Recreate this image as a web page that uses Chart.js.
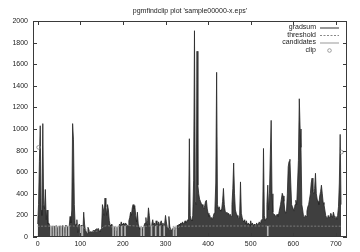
<!DOCTYPE html>
<html>
<head>
<meta charset="utf-8">
<script src="https://cdn.jsdelivr.net/npm/chart.js@4/dist/chart.umd.min.js"></script>
<style>
  html, body { margin: 0; padding: 0; background: #fff; }
  #wrap { width: 360px; height: 252px; }
</style>
</head>
<body>
<div id="wrap"><canvas id="plot" width="360" height="252"></canvas></div>
<script>
// gradsum sampled every 2 columns, starting at column 0
const gradsumStep = 2;
const gradsum = [
  120, 300, 700, 1030, 250, 200, 1050, 300, 260, 440,
  160, 250, 120, 130, 110, 60, 90, 100, 40, 95,
  100, 60, 105, 90, 30, 100, 95, 100, 50, 105,
  100, 90, 40, 110, 100, 95, 60, 100, 190, 130,
  250, 1050, 900, 300, 100, 120, 160, 40, 110, 120,
  50, 110, 100, 40, 230, 120, 60, 50, 30, 90,
  70, 40, 50, 45, 50, 60, 55, 60, 70, 75,
  70, 80, 60, 50, 70, 80, 300, 260, 200, 360,
  280, 200, 300, 250, 150, 110, 100, 120, 90, 60,
  80, 100, 50, 90, 70, 60, 120, 100, 140, 120,
  110, 130, 110, 130, 120, 110, 100, 150, 180, 230,
  200, 270, 300, 260, 290, 200, 140, 230, 120, 90,
  70, 80, 60, 90, 70, 110, 130, 180, 100, 150,
  270, 200, 100, 90, 120, 160, 110, 130, 90, 150,
  120, 110, 140, 100, 130, 150, 110, 130, 90, 120,
  200, 140, 90, 80, 190, 100, 70, 60, 75, 80,
  60, 90, 80, 70, 110, 100, 120, 110, 130, 120,
  140, 120, 130, 150, 130, 140, 160, 150, 910, 200,
  160, 150, 200, 520, 1910, 330, 300, 1720, 480, 400,
  350, 330, 310, 300, 280, 260, 290, 330, 340, 260,
  220, 190, 200, 170, 180, 160, 190, 220, 260, 500,
  1525, 300, 260, 280, 250, 240, 260, 330, 450, 300,
  240, 220, 230, 210, 220, 200, 210, 190, 300, 450,
  685, 400, 250, 220, 200, 180, 170, 200, 510, 220,
  180, 150, 140, 160, 120, 150, 110, 130, 120, 100,
  150, 110, 130, 100, 120, 110, 100, 130, 110, 120,
  140, 130, 150, 160, 170, 820, 200, 150, 170, 300,
  480, 250, 400, 760, 1080, 400, 230, 200, 210, 190,
  200, 210, 190, 220, 260, 300, 350, 405, 380, 330,
  250, 220, 240, 400, 650, 700, 720, 500, 300, 280,
  260, 240, 300, 340, 300, 500, 710, 1280, 1000, 830,
  300, 250, 190, 180, 200, 190, 240, 280, 300, 350,
  400, 500, 545, 420, 400, 450, 590, 400, 350, 330,
  300, 380, 420, 480, 400, 320, 300, 250, 200, 180,
  170, 200, 180, 190, 220, 200, 180, 230, 200, 170,
  190, 160, 200, 280, 500, 950, 300
];

// threshold (moving level), read at a few columns
const thresholdX = [0, 100, 108, 116, 124, 132, 140, 148, 156, 172, 178, 184, 190, 236, 242, 248, 254, 304, 310, 316, 322, 328, 336, 712];
const thresholdY = [100, 100, 85, 60, 50, 52, 55, 70, 100, 100, 72, 65, 100, 100, 82, 88, 100, 100, 72, 80, 70, 85, 100, 100];

// candidate columns and their impulse heights
const candidateX = [31, 37, 43, 49, 55, 61, 67, 73, 101, 105, 177, 183, 189, 197, 205, 243, 249, 267, 277, 287, 297, 319, 325, 540];
const candidateY = [100, 100, 100, 100, 100, 100, 100, 100, 100, 100, 100, 100, 100, 100, 100, 100, 100, 100, 100, 100, 100, 100, 100, 100];

// clipped points
const clipX = [2, 713];
const clipY = [830, 786];

const xTicks = [0, 100, 200, 300, 400, 500, 600, 700];
const yTicks = [0, 200, 400, 600, 800, 1000, 1200, 1400, 1600, 1800, 2000];

const titleText = "pgmfindclip plot 'sample00000-x.eps'";
const legendItems = ["gradsum", "threshold", "candidates", "clip"];

const FONT = "'Liberation Sans', Arial, sans-serif";

const gnuplotFrame = {
    id: "gnuplotFrame",
    afterDraw(chart) {
        const { ctx, chartArea: a, scales } = chart;
        ctx.save();
        // border box
        ctx.strokeStyle = "#3a3a3a";
        ctx.lineWidth = 1;
        ctx.strokeRect(a.left + 0.5, a.top + 0.5, a.right - a.left - 1, a.bottom - a.top - 1);
        // inward ticks, mirrored
        ctx.beginPath();
        xTicks.forEach(v => {
            const px = Math.round(scales.x.getPixelForValue(v)) + 0.5;
            ctx.moveTo(px, a.bottom); ctx.lineTo(px, a.bottom - 4);
            ctx.moveTo(px, a.top); ctx.lineTo(px, a.top + 4);
        });
        yTicks.forEach(v => {
            const py = Math.round(scales.y.getPixelForValue(v)) + 0.5;
            ctx.moveTo(a.left, py); ctx.lineTo(a.left + 4, py);
            ctx.moveTo(a.right, py); ctx.lineTo(a.right - 4, py);
        });
        ctx.stroke();

        // title
        ctx.fillStyle = "#222";
        ctx.font = "7px " + FONT;
        ctx.textAlign = "center";
        ctx.textBaseline = "middle";
        ctx.fillText(titleText, (a.left + a.right) / 2, 11.5);

        // key, gnuplot style: text right aligned, sample to the right
        const textRight = 316, sx0 = 320, sx1 = 339;
        const rows = [27.5, 35, 42.5, 50];
        ctx.textAlign = "right";
        legendItems.forEach((name, i) => {
            const y = rows[i];
            ctx.fillStyle = "#222";
            ctx.fillText(name, textRight, y);
            ctx.beginPath();
            ctx.setLineDash([]);
            if (i === 0) {
                ctx.strokeStyle = "#333"; ctx.lineWidth = 1;
                ctx.moveTo(sx0, y + 0.5); ctx.lineTo(sx1, y + 0.5);
            } else if (i === 1) {
                ctx.strokeStyle = "#888"; ctx.lineWidth = 1;
                ctx.setLineDash([2, 1.5]);
                ctx.moveTo(sx0, y + 0.5); ctx.lineTo(sx1, y + 0.5);
            } else if (i === 2) {
                ctx.strokeStyle = "#999"; ctx.lineWidth = 1;
                ctx.moveTo(sx0, y + 0.5); ctx.lineTo(sx1, y + 0.5);
            } else {
                ctx.strokeStyle = "#888"; ctx.lineWidth = 0.8;
                ctx.arc((sx0 + sx1) / 2, y + 0.5, 1.8, 0, Math.PI * 2);
            }
            ctx.stroke();
        });
        ctx.restore();
    }
};

const ctx = document.getElementById("plot").getContext("2d");
new Chart(ctx, {
    data: {
        datasets: [
            {
                type: "line",
                label: "gradsum",
                data: gradsum.map((v, i) => ({ x: i * gradsumStep, y: v })),
                borderColor: "#262626",
                backgroundColor: "#3f3f3f",
                borderWidth: 0.8,
                pointRadius: 0,
                tension: 0,
                fill: "origin",
                order: 4,
            },
            {
                type: "bar",
                label: "candidates",
                data: candidateX.map((x, i) => ({ x: x, y: candidateY[i] })),
                backgroundColor: "#b4b4b4",
                barThickness: 1,
                order: 3,
            },
            {
                type: "line",
                label: "threshold",
                data: thresholdX.map((x, i) => ({ x: x, y: thresholdY[i] })),
                borderColor: "#8c8c8c",
                borderWidth: 0.8,
                borderDash: [2, 1.5],
                pointRadius: 0,
                tension: 0.3,
                fill: false,
                order: 2,
            },
            {
                type: "scatter",
                label: "clip",
                data: clipX.map((x, i) => ({ x: x, y: clipY[i] })),
                pointStyle: "circle",
                pointRadius: 1.8,
                borderColor: "#888",
                borderWidth: 0.8,
                backgroundColor: "rgba(0,0,0,0)",
                order: 1,
            },
        ],
    },
    options: {
        responsive: false,
        animation: false,
        layout: { padding: { top: 21, right: 13, left: 0, bottom: 0 } },
        plugins: {
            legend: { display: false },
            title: { display: false },
            tooltip: { enabled: false },
        },
        scales: {
            x: {
                type: "linear",
                min: -11,
                max: 726,
                offset: false,
                afterFit(scale) { scale.height = 15; },
                afterBuildTicks(scale) { scale.ticks = xTicks.map(v => ({ value: v })); },
                grid: { display: false, drawTicks: false },
                border: { display: false },
                ticks: {
                    padding: 3,
                    color: "#222",
                    font: { family: FONT, size: 7 },
                    maxRotation: 0,
                    callback: v => String(v),
                },
            },
            y: {
                type: "linear",
                min: 0,
                max: 2000,
                afterFit(scale) { scale.width = 33; },
                afterBuildTicks(scale) { scale.ticks = yTicks.map(v => ({ value: v })); },
                grid: { display: false, drawTicks: false },
                border: { display: false },
                ticks: {
                    padding: 5,
                    color: "#222",
                    font: { family: FONT, size: 7 },
                    callback: v => String(v),
                },
            },
        },
    },
    plugins: [gnuplotFrame],
});
</script>
</body>
</html>
